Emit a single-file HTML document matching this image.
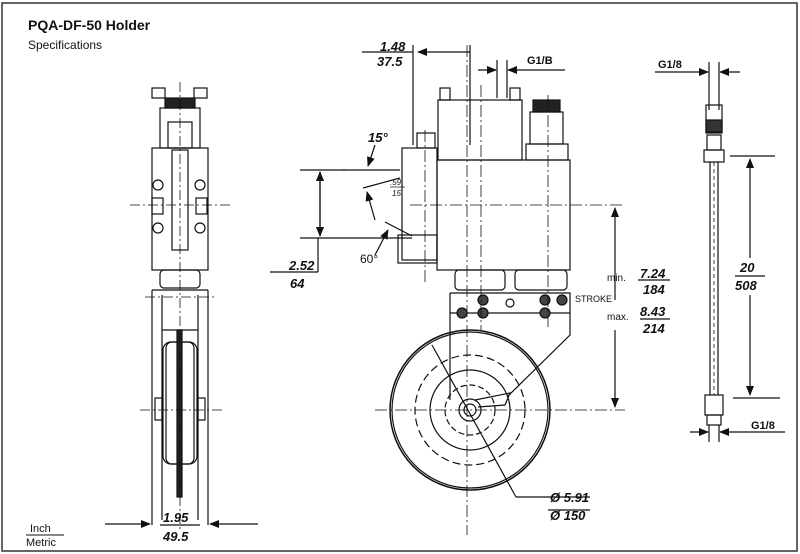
<!DOCTYPE html>
<html><head><meta charset="utf-8"><style>
html,body{margin:0;padding:0;background:#fff;}
svg{display:block;}
text{font-family:"Liberation Sans",sans-serif;fill:#111;}
.it{font-style:italic;font-weight:bold;font-size:13px;}
</style></head><body>
<svg width="800" height="554" viewBox="0 0 800 554" xmlns="http://www.w3.org/2000/svg">
<defs>
<marker id="a" markerWidth="10" markerHeight="8" refX="9" refY="4" orient="auto" markerUnits="userSpaceOnUse"><path d="M0,0 L10,4 L0,8z" fill="#111"/></marker>
</defs>
<rect x="2" y="3" width="795" height="548" fill="none" stroke="#333" stroke-width="1.5"/>
<text x="28" y="30" font-size="14" font-weight="bold">PQA-DF-50 Holder</text>
<text x="28" y="49" font-size="12">Specifications</text>
<text x="30" y="532" font-size="11">Inch</text>
<line x1="26" y1="535" x2="64" y2="535" stroke="#111"/>
<text x="26" y="546" font-size="11">Metric</text>

<g fill="none" stroke="#111" stroke-width="1.2">
<!-- LEFT VIEW -->
<rect x="152" y="88" width="13" height="10"/><rect x="194" y="88" width="13" height="10"/>
<rect x="165" y="98" width="30" height="10" fill="#222"/>
<rect x="160" y="108" width="40" height="40"/>
<rect x="168" y="122" width="24" height="26"/>
<rect x="152" y="148" width="56" height="122"/>
<circle cx="158" cy="185" r="5"/><circle cx="200" cy="185" r="5"/>
<circle cx="158" cy="228" r="5"/><circle cx="200" cy="228" r="5"/>
<rect x="152" y="198" width="11" height="16"/><rect x="196" y="198" width="11" height="16"/>
<rect x="172" y="150" width="16" height="100"/>
<rect x="160" y="270" width="40" height="18" rx="4"/>
<line x1="152" y1="290" x2="152" y2="525"/><line x1="208" y1="290" x2="208" y2="525"/>
<line x1="152" y1="290" x2="208" y2="290"/>
<line x1="162" y1="295" x2="162" y2="520"/><line x1="198" y1="295" x2="198" y2="520"/>
<line x1="162" y1="330" x2="198" y2="330"/>
<rect x="163" y="342" width="34" height="122" rx="8"/>
<rect x="166" y="342" width="28" height="122" rx="6"/>
<rect x="177" y="330" width="5" height="167" fill="#222"/>
<rect x="155" y="398" width="7" height="22"/><rect x="198" y="398" width="7" height="22"/>
<g stroke-width="0.8" stroke-dasharray="10,3,2,3">
<line x1="180" y1="82" x2="180" y2="530"/>
<line x1="130" y1="205" x2="230" y2="205"/>
<line x1="145" y1="297" x2="215" y2="297"/>
<line x1="140" y1="410" x2="225" y2="410"/>
</g>
<line x1="105" y1="524" x2="150" y2="524" marker-end="url(#a)"/>
<line x1="258" y1="524" x2="210" y2="524" marker-end="url(#a)"/>
<line x1="160" y1="525" x2="200" y2="525"/>

<!-- MIDDLE VIEW -->
<rect x="440" y="88" width="10" height="12"/><rect x="510" y="88" width="10" height="12"/>
<rect x="438" y="100" width="84" height="60"/>
<rect x="437" y="160" width="133" height="110"/>
<rect x="533" y="100" width="27" height="12" fill="#222"/>
<rect x="530" y="112" width="33" height="32"/>
<rect x="526" y="144" width="42" height="16"/>
<rect x="402" y="148" width="35" height="112"/>
<rect x="398" y="235" width="39" height="28"/>
<rect x="417" y="133" width="18" height="15"/>
<rect x="455" y="270" width="50" height="20" rx="4"/>
<rect x="515" y="270" width="52" height="20" rx="4"/>
<path d="M450,293 H570 V335 L507,397 M450,293 V400"/>
<line x1="450" y1="313" x2="570" y2="313"/>
<circle cx="462" cy="313" r="5" fill="#444"/><circle cx="483" cy="300" r="5" fill="#444"/><circle cx="483" cy="313" r="5" fill="#444"/>
<circle cx="510" cy="303" r="4"/><circle cx="545" cy="300" r="5" fill="#444"/><circle cx="545" cy="313" r="5" fill="#444"/><circle cx="562" cy="300" r="5" fill="#444"/>
<circle cx="470" cy="410" r="80" stroke-width="1.5"/>
<circle cx="470" cy="410" r="78"/>
<circle cx="470" cy="410" r="55" stroke-dasharray="8,4"/>
<circle cx="470" cy="410" r="40"/>
<circle cx="470" cy="410" r="25" stroke-dasharray="6,3"/>
<circle cx="470" cy="410" r="11"/><circle cx="470" cy="410" r="6"/>
<path d="M475,400 L510,393 L505,405 L478,407"/>
<line x1="432" y1="345" x2="516" y2="497"/>
<line x1="516" y1="497" x2="590" y2="497"/>
<line x1="343" y1="170" x2="400" y2="170"/>
<line x1="363" y1="188" x2="400" y2="178"/>
<line x1="385" y1="222" x2="412" y2="236"/>
<line x1="300" y1="170" x2="345" y2="170"/>
<line x1="300" y1="238" x2="412" y2="238"/>
<line x1="320" y1="172" x2="320" y2="236"/>
<line x1="320" y1="205" x2="320" y2="172" marker-end="url(#a)"/>
<line x1="320" y1="205" x2="320" y2="236" marker-end="url(#a)"/>
<line x1="318" y1="238" x2="318" y2="272"/>
<line x1="270" y1="272" x2="318" y2="272"/>
<line x1="375" y1="145" x2="368" y2="166" marker-end="url(#a)"/>
<line x1="375" y1="220" x2="367" y2="192" marker-end="url(#a)"/>
<line x1="375" y1="255" x2="388" y2="230" marker-end="url(#a)"/>
<line x1="390" y1="187" x2="405" y2="187" stroke-width="0.7"/>
<line x1="413" y1="45" x2="413" y2="145"/>
<line x1="470" y1="45" x2="470" y2="145"/>
<line x1="362" y1="52" x2="413" y2="52"/>
<line x1="470" y1="52" x2="418" y2="52" marker-end="url(#a)"/>
<line x1="497" y1="60" x2="497" y2="98"/><line x1="507" y1="60" x2="507" y2="98"/>
<line x1="478" y1="70" x2="496" y2="70" marker-end="url(#a)"/>
<line x1="565" y1="70" x2="508" y2="70" marker-end="url(#a)"/>
<g stroke-width="0.8" stroke-dasharray="12,3,2,3">
<line x1="467" y1="45" x2="467" y2="535"/>
<line x1="481" y1="85" x2="481" y2="330"/>
<line x1="548" y1="95" x2="548" y2="330"/>
<line x1="425" y1="130" x2="425" y2="285"/>
<line x1="410" y1="205" x2="625" y2="205"/>
<line x1="375" y1="410" x2="625" y2="410"/>
</g>
<line x1="615" y1="300" x2="615" y2="208" marker-end="url(#a)"/>
<line x1="615" y1="330" x2="615" y2="407" marker-end="url(#a)"/>
<line x1="638" y1="280" x2="670" y2="280"/>
<line x1="640" y1="319" x2="670" y2="319"/>
<line x1="548" y1="510" x2="590" y2="510"/>

<!-- RIGHT HOSE -->
<line x1="709" y1="62" x2="709" y2="110"/><line x1="719" y1="62" x2="719" y2="110"/>
<rect x="706" y="105" width="16" height="28"/>
<rect x="706" y="120" width="16" height="12" fill="#333"/>
<rect x="707" y="135" width="14" height="15"/>
<rect x="704" y="150" width="20" height="12"/>
<line x1="710" y1="162" x2="710" y2="395"/><line x1="718" y1="162" x2="718" y2="395"/>
<line x1="714" y1="162" x2="714" y2="395" stroke-dasharray="4,3" stroke-width="0.8"/>
<rect x="705" y="395" width="18" height="20"/>
<rect x="707" y="415" width="14" height="10"/>
<line x1="709" y1="425" x2="709" y2="442"/><line x1="719" y1="425" x2="719" y2="442"/>
<line x1="655" y1="72" x2="708" y2="72" marker-end="url(#a)"/>
<line x1="740" y1="72" x2="720" y2="72" marker-end="url(#a)"/>
<line x1="730" y1="156" x2="775" y2="156"/>
<line x1="733" y1="398" x2="780" y2="398"/>
<line x1="750" y1="258" x2="750" y2="159" marker-end="url(#a)"/>
<line x1="750" y1="295" x2="750" y2="395" marker-end="url(#a)"/>
<line x1="735" y1="276" x2="765" y2="276"/>
<line x1="690" y1="432" x2="708" y2="432" marker-end="url(#a)"/>
<line x1="785" y1="432" x2="720" y2="432" marker-end="url(#a)"/>
</g>

<text class="it" x="163" y="522">1.95</text>
<text class="it" x="163" y="541">49.5</text>
<text class="it" x="380" y="51">1.48</text>
<text class="it" x="377" y="66">37.5</text>
<text x="527" y="64" font-size="11" font-weight="bold">G1/B</text>
<text class="it" x="368" y="142" font-size="14">15°</text>
<text x="390" y="185" font-size="8" font-style="italic">.59</text>
<text x="392" y="196" font-size="8" font-style="italic">15</text>
<text x="360" y="263" font-size="12">60°</text>
<text class="it" x="289" y="270">2.52</text>
<text class="it" x="290" y="288">64</text>
<text x="607" y="281" font-size="10">min.</text>
<text class="it" x="640" y="278">7.24</text>
<text class="it" x="643" y="294">184</text>
<text x="575" y="302" font-size="9">STROKE</text>
<text x="607" y="320" font-size="10">max.</text>
<text class="it" x="640" y="316">8.43</text>
<text class="it" x="643" y="333">214</text>
<text class="it" x="550" y="502">Ø 5.91</text>
<text class="it" x="550" y="520">Ø 150</text>
<text x="658" y="68" font-size="11" font-weight="bold">G1/8</text>
<text class="it" x="740" y="272">20</text>
<text class="it" x="735" y="290">508</text>
<text x="751" y="429" font-size="11" font-weight="bold">G1/8</text>
</svg>
</body></html>
